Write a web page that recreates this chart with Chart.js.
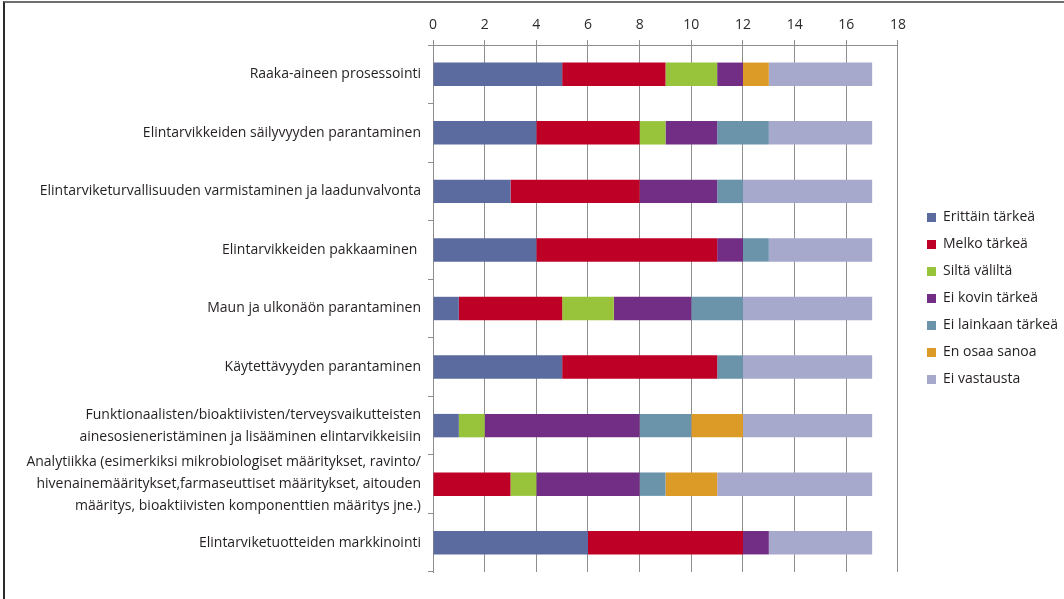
<!DOCTYPE html>
<html lang="fi">
<head>
<meta charset="utf-8">
<title>Tärkeys</title>
<script src="https://cdn.jsdelivr.net/npm/chart.js@4.4.1/dist/chart.umd.min.js"></script>
<style>
  html, body { margin: 0; padding: 0; background: #fff; }
  #frame {
    position: absolute; left: 3px; top: 1px;
    width: 1061px; height: 598px; box-sizing: border-box;
    border-top: 2px solid #6f6f6f; border-left: 2px solid #2b2b2b;
    overflow: hidden;
  }
  #wrap { position: relative; width: 1063px; height: 596px; }
</style>
</head>
<body>
<div id="frame">
  <div id="wrap"><canvas id="chart"></canvas></div>
</div>
<script>
const categories = [
  'Raaka-aineen prosessointi',
  'Elintarvikkeiden säilyvyyden parantaminen',
  'Elintarviketurvallisuuden varmistaminen ja laadunvalvonta',
  'Elintarvikkeiden pakkaaminen ',
  'Maun ja ulkonäön parantaminen',
  'Käytettävyyden parantaminen',
  ['Funktionaalisten/bioaktiivisten/terveysvaikutteisten',
   'ainesosieneristäminen ja lisääminen elintarvikkeisiin'],
  ['Analytiikka (esimerkiksi mikrobiologiset määritykset, ravinto/',
   'hivenainemääritykset,farmaseuttiset määritykset, aitouden',
   'määritys, bioaktiivisten komponenttien määritys jne.)'],
  'Elintarviketuotteiden markkinointi'
];

const xTicks = [0, 2, 4, 6, 8, 10, 12, 14, 16, 18];

const erittainTarkea = [5, 4, 3, 4, 1, 5, 1, 0, 6];
const melkoTarkea    = [4, 4, 5, 7, 4, 6, 0, 3, 6];
const siltaValilta   = [2, 1, 0, 0, 2, 0, 1, 1, 0];
const eiKovinTarkea  = [1, 2, 3, 1, 3, 0, 6, 4, 1];
const eiLainkaan     = [0, 2, 1, 1, 2, 1, 2, 1, 0];
const enOsaaSanoa    = [1, 0, 0, 0, 0, 0, 2, 2, 0];
const eiVastausta    = [4, 4, 5, 4, 5, 5, 5, 6, 4];

const FONT = 'Open Sans';
const gridColor = '#8e8e8e';

function series(label, data, color) {
  return {
    label,
    data,
    backgroundColor: color,
    borderWidth: 0,
    categoryPercentage: 1,
    barPercentage: 0.4
  };
}

const chartEl = document.getElementById('chart');

new Chart(chartEl, {
  type: 'bar',
  data: {
    labels: categories,
    datasets: [
      series('Erittäin tärkeä', erittainTarkea, '#5c6b9f'),
      series('Melko tärkeä', melkoTarkea, '#bf0026'),
      series('Siltä väliltä', siltaValilta, '#97c43b'),
      series('Ei kovin tärkeä', eiKovinTarkea, '#722e85'),
      series('Ei lainkaan tärkeä', eiLainkaan, '#6b94ab'),
      series('En osaa sanoa', enOsaaSanoa, '#dc9a26'),
      series('Ei vastausta', eiVastausta, '#a7a9cc')
    ]
  },
  options: {
    indexAxis: 'y',
    responsive: true,
    maintainAspectRatio: false,
    animation: false,
    layout: { padding: { left: 0, top: 0, right: 0, bottom: 27 } },
    scales: {
      x: {
        position: 'top',
        stacked: true,
        min: 0,
        max: 18,
        afterBuildTicks(scale) {
          scale.ticks = xTicks.map((v) => ({ value: v }));
        },
        afterFit(scale) { scale.height = 42; },
        grid: { color: gridColor, lineWidth: 1, tickLength: 5 },
        border: { color: gridColor, width: 1 },
        ticks: {
          padding: 7,
          color: '#2a2a2a',
          font: { family: FONT, size: 14 }
        }
      },
      y: {
        stacked: true,
        afterFit(scale) { scale.width = 428; },
        grid: { drawOnChartArea: false, color: gridColor, tickLength: 5 },
        border: { color: gridColor, width: 1 },
        ticks: {
          autoSkip: false,
          padding: 7,
          color: '#231f20',
          font: { family: FONT, size: 14, lineHeight: 1.57 }
        }
      },
      gap: {
        position: 'right',
        type: 'category',
        grid: { display: false },
        border: { display: false },
        ticks: { display: false },
        afterFit(scale) { scale.width = 16; }
      }
    },
    plugins: {
      legend: {
        position: 'right',
        // blank title just pushes the item column down a little
        title: { display: true, text: ' ', padding: 0, font: { size: 11, lineHeight: 2 } },
        labels: {
          boxWidth: 9,
          boxHeight: 9,
          padding: 13,
          color: '#231f20',
          font: { family: FONT, size: 14 }
        }
      },
      tooltip: { enabled: false }
    }
  }
});
</script>
</body>
</html>
